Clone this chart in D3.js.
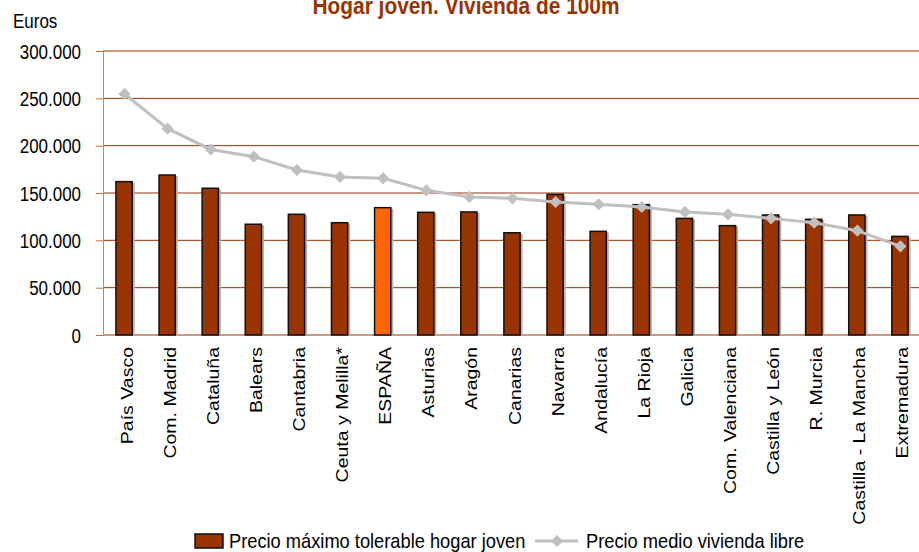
<!DOCTYPE html>
<html>
<head>
<meta charset="utf-8">
<script src="https://cdn.jsdelivr.net/npm/d3@7"></script>
<style>
  body { margin: 0; background: #fff; }
  svg { display: block; font-family: "Liberation Sans", Arial, sans-serif; }
</style>
</head>
<body>
<svg id="chart" width="919" height="552"></svg>
<script>
// --- datos ---
const regiones = ["País Vasco", "Com. Madrid", "Cataluña", "Balears", "Cantabria",
  "Ceuta y Melilla*", "ESPAÑA", "Asturias", "Aragón", "Canarias", "Navarra",
  "Andalucía", "La Rioja", "Galicia", "Com. Valenciana", "Castilla y León",
  "R. Murcia", "Castilla - La Mancha", "Extremadura"];
const precioTolerable = [162000, 169000, 155000, 117000, 127500, 118600, 134500,
  129600, 130000, 108000, 148600, 109500, 137700, 123200, 115500, 126800,
  122200, 126800, 104200];
const precioMedio = [254600, 218000, 196000, 188400, 174300, 167000, 165500,
  152800, 145800, 144400, 140500, 138000, 135200, 130000, 127500, 123200,
  118600, 110200, 93700];
const yTicks = [0, 50000, 100000, 150000, 200000, 250000, 300000];

const svg = d3.select("#chart");
const mIzq = 103, mDer = 922, mSup = 51, mInf = 335;

const fmt = d3.formatLocale({ decimal: ",", thousands: ".", grouping: [3], currency: ["", "€"] }).format(",");

const x = d3.scaleBand().domain(regiones).range([mIzq, mDer]).paddingInner(0.6).paddingOuter(0.3);
const y = d3.scaleLinear().domain([0, 300000]).range([mInf, mSup]);

// el original está algo estirado en vertical: textos algo estrechos
const estrecho = 0.87;

// título (cortado arriba como en el original)
svg.append("text")
  .attr("transform", `translate(466,14) scale(${estrecho},1)`)
  .attr("text-anchor", "middle")
  .style("font-size", "24px").style("font-weight", "bold")
  .attr("fill", "#993300")
  .text("Hogar joven. Vivienda de 100m");

// "Euros"
svg.append("text")
  .attr("transform", `translate(13,28) scale(${estrecho},1)`)
  .style("font-size", "19.5px")
  .text("Euros");

// rejilla
svg.append("g").selectAll("line")
  .data(yTicks)
  .enter().append("line")
    .attr("x1", mIzq).attr("x2", 919)
    .attr("y1", d => y(d)).attr("y2", d => y(d))
    .attr("stroke", "#993300").attr("stroke-width", 1);

// eje Y
const yAxis = svg.append("g")
  .attr("transform", `translate(${mIzq},0)`)
  .call(d3.axisLeft(y).tickValues(yTicks).tickSize(7).tickFormat(fmt));
yAxis.select(".domain").attr("stroke", "#c08466");
yAxis.selectAll(".tick line").attr("stroke", "#b8704c");
yAxis.selectAll(".tick text")
  .attr("x", null).attr("dy", null)
  .attr("transform", `translate(-22,7) scale(${estrecho},1)`)
  .attr("fill", "#000")
  .style("font-size", "19.5px")
  .style("font-family", "'Liberation Sans', Arial, sans-serif");

// barras
const bars = svg.append("g");
bars.selectAll("rect.sombra")
  .data(regiones)
  .enter().append("rect")
    .attr("class", "sombra")
    .attr("x", (d) => x(d) + 1.5)
    .attr("y", (d, i) => y(precioTolerable[i]) + 1)
    .attr("width", x.bandwidth())
    .attr("height", (d, i) => mInf - y(precioTolerable[i]) - 1)
    .attr("fill", "#b4b4b4");
bars.selectAll("rect.barra")
  .data(regiones)
  .enter().append("rect")
    .attr("class", "barra")
    .attr("x", d => x(d))
    .attr("y", (d, i) => y(precioTolerable[i]))
    .attr("width", x.bandwidth() - 1)
    .attr("height", (d, i) => mInf - y(precioTolerable[i]))
    .attr("fill", d => d === "ESPAÑA" ? "#ff6600" : "#993300")
    .attr("stroke", "#111").attr("stroke-width", 1.5);

// etiquetas de categoría (verticales)
svg.append("g").selectAll("text")
  .data(regiones)
  .enter().append("text")
    .attr("transform", d => `translate(${x(d) + x.bandwidth() / 2 + 8},347) rotate(-90) scale(1,${estrecho})`)
    .attr("text-anchor", "end")
    .style("font-size", "19.5px")
    .text(d => d);

// línea precio medio
const cx = d => x(d) + x.bandwidth() / 2;
const linea = d3.line().x(d => cx(d)).y((d, i) => y(precioMedio[i]));
svg.append("path")
  .datum(regiones)
  .attr("d", linea)
  .attr("fill", "none")
  .attr("stroke", "#c0c0c0").attr("stroke-width", 3);

const rombo = d3.symbol().type(d3.symbolDiamond2 || d3.symbolDiamond).size(95);
svg.append("g").selectAll("path")
  .data(regiones)
  .enter().append("path")
    .attr("d", rombo)
    .attr("transform", (d, i) => `translate(${cx(d)},${y(precioMedio[i])})`)
    .attr("fill", "#c0c0c0");

// leyenda
const ley = svg.append("g");
ley.append("rect")
  .attr("x", 195).attr("y", 534).attr("width", 28).attr("height", 14)
  .attr("fill", "#993300").attr("stroke", "#111").attr("stroke-width", 1.5);
ley.append("text")
  .attr("transform", `translate(229,548) scale(${estrecho},1)`)
  .style("font-size", "21px")
  .text("Precio máximo tolerable hogar joven");
ley.append("line")
  .attr("x1", 535).attr("x2", 578).attr("y1", 541).attr("y2", 541)
  .attr("stroke", "#c0c0c0").attr("stroke-width", 3);
ley.append("path")
  .attr("d", rombo)
  .attr("transform", "translate(557,541)")
  .attr("fill", "#c0c0c0");
ley.append("text")
  .attr("transform", `translate(586,548) scale(${estrecho},1)`)
  .style("font-size", "21px")
  .text("Precio medio vivienda libre");
</script>
</body>
</html>
